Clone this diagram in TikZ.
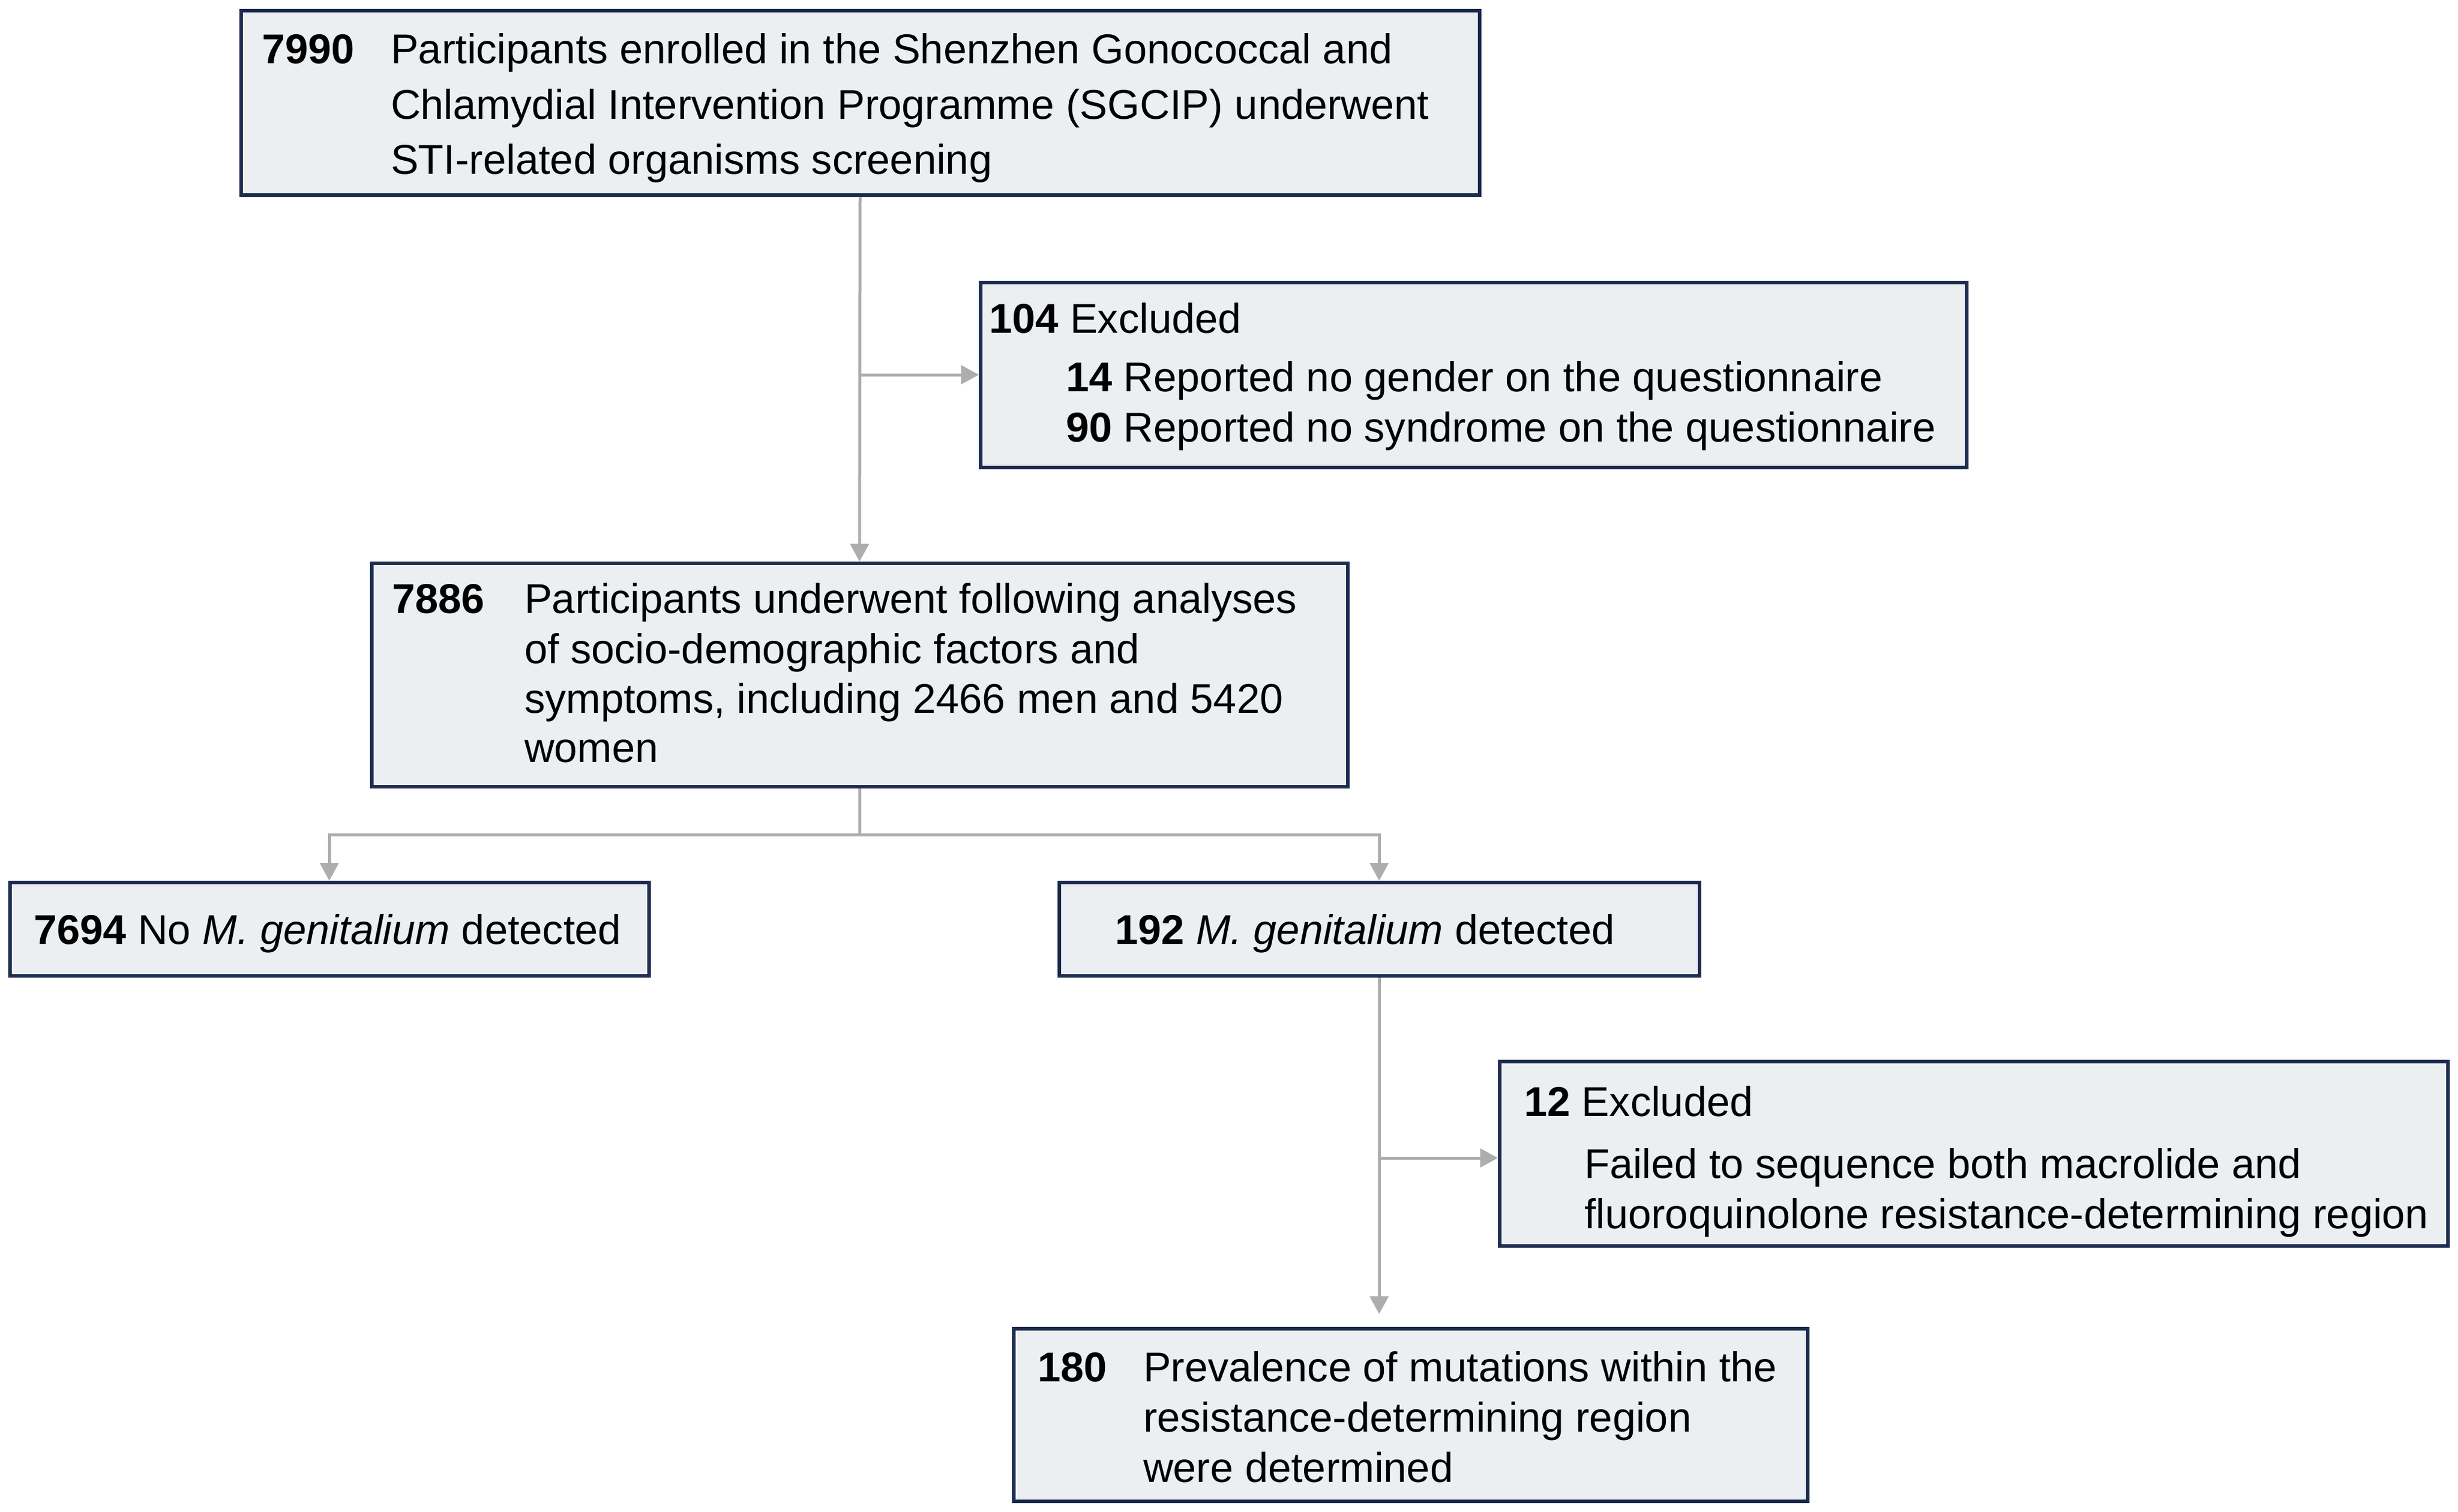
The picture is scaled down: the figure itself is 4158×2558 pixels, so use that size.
\documentclass[tikz,border=0pt]{standalone}
\usepackage{fontspec}
\setmainfont{Liberation Sans}
\usetikzlibrary{arrows.meta}
\definecolor{boxborder}{HTML}{1C2B4E}
\definecolor{boxfill}{HTML}{ECEFF2}
\definecolor{linkgray}{HTML}{AEADAE}
\begin{document}
\begin{tikzpicture}[x=0.25pt,y=-0.25pt,
  flowbox/.style={draw=boxborder,fill=boxfill,line width=1.5pt,rectangle,inner sep=0pt},
  txt/.style={anchor=base west,inner sep=0pt,outer sep=0pt,font=\fontsize{17.6}{21}\selectfont},
  link/.style={draw=linkgray,line width=1.25pt},
  arr/.style={link,-{Triangle[width=7.8pt,length=7.5pt]}}]
\useasboundingbox (0,0) rectangle (4158,2558);
% boxes
\node[flowbox,minimum width=2095*0.25pt,minimum height=312*0.25pt] (b1) at (1455,174) {};
\node[flowbox,minimum width=1668*0.25pt,minimum height=313*0.25pt] (b2) at (2493,634) {};
\node[flowbox,minimum width=1651*0.25pt,minimum height=378*0.25pt] (b3) at (1454,1142) {};
\node[flowbox,minimum width=1081*0.25pt,minimum height=158*0.25pt] (b4) at (557,1572) {};
\node[flowbox,minimum width=1083*0.25pt,minimum height=158*0.25pt] (b5) at (2333,1572) {};
\node[flowbox,minimum width=1604*0.25pt,minimum height=312*0.25pt] (b6) at (3339,1952) {};
\node[flowbox,minimum width=1343*0.25pt,minimum height=292*0.25pt] (b7) at (2386,2394) {};
% texts
\node[txt] (t1n) at (443,108) {\bfseries 7990};
\node[txt] (t1a) at (661,108) {Participants enrolled in the Shenzhen Gonococcal and};
\node[txt] (t1b) at (661,202) {Chlamydial Intervention Programme (SGCIP) underwent};
\node[txt] (t1c) at (661,295) {STI-related organisms screening};
\node[txt] (t2a) at (1673,563) {\textbf{104} Excluded};
\node[txt] (t2b) at (1803,662) {\textbf{14} Reported no gender on the questionnaire};
\node[txt] (t2c) at (1803,747) {\textbf{90} Reported no syndrome on the questionnaire};
\node[txt] (t3n) at (663,1037) {\bfseries 7886};
\node[txt] (t3a) at (887,1037) {Participants underwent following analyses};
\node[txt] (t3b) at (887,1122) {of socio-demographic factors and};
\node[txt] (t3c) at (887,1206) {symptoms, including 2466 men and 5420};
\node[txt] (t3d) at (887,1289) {women};
\node[txt] (t4) at (57,1597) {\textbf{7694} No \textit{M. genitalium} detected};
\node[txt] (t5) at (1886,1597) {\textbf{192} \textit{M. genitalium} detected};
\node[txt] (t6a) at (2578,1888) {\textbf{12} Excluded};
\node[txt] (t6b) at (2680,1993) {Failed to sequence both macrolide and};
\node[txt] (t6c) at (2680,2078) {fluoroquinolone resistance-determining region};
\node[txt] (t7n) at (1755,2337) {\bfseries 180};
\node[txt] (t7a) at (1934,2337) {Prevalence of mutations within the};
\node[txt] (t7b) at (1934,2422) {resistance-determining region};
\node[txt] (t7c) at (1934,2507) {were determined};
% connectors
\coordinate (s1) at (b1.south |- b2.west);
\coordinate (s2) at (1454,1412);
\coordinate (s3) at (2333,1959);
\draw[arr] (b1.south) -- (b3.north);
\draw[arr] (s1) -- (b2.west);
\draw[link] (b3.south) -- (s2);
\draw[arr] (s2) -| (b4.north);
\draw[arr] (s2) -| (b5.north);
\draw[arr] (b5.south) -- ([yshift=5.5pt]b5.south |- b7.north);
\draw[arr] (s3) -- (s3 -| b6.west);
\end{tikzpicture}
\end{document}
